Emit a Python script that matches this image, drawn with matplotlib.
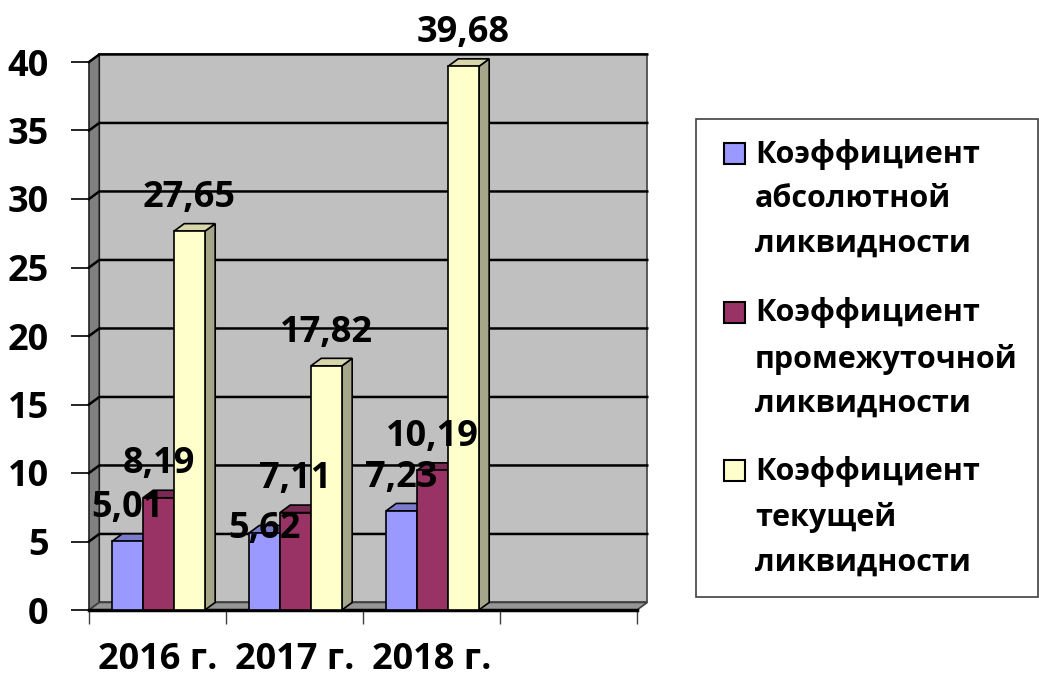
import matplotlib.pyplot as plt
from matplotlib.patches import Polygon, Rectangle

plt.rcParams['font.family'] = ['Open Sans', 'DejaVu Sans']
plt.rcParams['font.weight'] = 'bold'

# data
years = ['2016 г.', '2017 г.', '2018 г.']
series = ['Коэффициент\nабсолютной\nликвидности',
          'Коэффициент\nпромежуточной\nликвидности',
          'Коэффициент\nтекущей\nликвидности']
absolute = [5.01, 5.62, 7.23]
intermediate = [8.19, 7.11, 10.19]
current = [27.65, 17.82, 39.68]
n_slots = 4  # excel leaves one empty category slot

# colours: front, side, top
colors = [('#9999FF', '#6B6BB3', '#7B7BCC'),
          ('#993366', '#6B2447', '#7A2952'),
          ('#FFFFCC', '#A6A68A', '#D6D6AA')]

FS = 26
DX, DY = 0.075, 0.55   # 3d depth in data units
BW = 0.226             # bar width
GAP = 0.168            # offset of group inside a slot

fig = plt.figure(figsize=(10.39, 6.77), dpi=100)
ax = fig.add_axes([89/1039, 67/677, 548/1039, 548/677])
ax.set_xlim(0, n_slots)
ax.set_ylim(0, 40)
for s in ax.spines.values():
    s.set_visible(False)
ax.patch.set_visible(False)

# walls
back = Polygon([(DX, DY), (n_slots + DX, DY), (n_slots + DX, 40 + DY), (DX, 40 + DY)],
               closed=True, fc='#C0C0C0', ec='#404040', lw=1.2, clip_on=False, zorder=1)
side = Polygon([(0, 0), (0, 40), (DX, 40 + DY), (DX, DY)],
               closed=True, fc='#808080', ec='#202020', lw=1.2, clip_on=False, zorder=1)
floor = Polygon([(0, 0), (n_slots, 0), (n_slots + DX, DY), (DX, DY)],
                closed=True, fc='#969696', ec='#404040', lw=1.2, clip_on=False, zorder=1)
for p in (back, side, floor):
    ax.add_patch(p)
ax.plot([0, n_slots], [0, 0], color='black', lw=2.5, clip_on=False, zorder=2)

# gridlines on back wall and side wall
for y in range(5, 41, 5):
    ax.plot([0, DX, n_slots + DX], [y, y + DY, y + DY], color='black', lw=1.8,
            clip_on=False, zorder=2)

# bars
all_vals = [absolute, intermediate, current]
z = 3
for i in range(len(years)):
    for j, vals in enumerate(all_vals):
        v = vals[i]
        x0 = i + GAP + j * BW
        x1 = x0 + BW
        front, sidec, topc = colors[j]
        ax.add_patch(Polygon([(x1, 0), (x1 + DX, DY), (x1 + DX, v + DY), (x1, v)],
                             closed=True, fc=sidec, ec='black', lw=1.2, clip_on=False, zorder=z))
        ax.add_patch(Polygon([(x0, v), (x1, v), (x1 + DX, v + DY), (x0 + DX, v + DY)],
                             closed=True, fc=topc, ec='black', lw=1.2, clip_on=False, zorder=z))
        ax.add_patch(Rectangle((x0, 0), BW, v, fc=front, ec='black', lw=1.2,
                               clip_on=False, zorder=z + 0.5))
        z += 1

# value labels (the 2017 absolute one sits lower in the original)
nudge = {(1, 0): -21}
for i in range(len(years)):
    for j, vals in enumerate(all_vals):
        v = vals[i]
        xc = i + GAP + j * BW + BW / 2
        ax.annotate(f'{v:.2f}'.replace('.', ','), xy=(xc, v),
                    xytext=(0, 24 + nudge.get((i, j), 0)),
                    textcoords='offset points', ha='center', va='center',
                    fontsize=FS, fontweight='bold', zorder=50)

# axes ticks
ax.set_yticks(range(0, 41, 5))
ax.tick_params(axis='y', length=13, width=1.2, pad=16, labelsize=FS)
ax.set_xticks(range(0, n_slots + 1))
ax.set_xticklabels([])
ax.tick_params(axis='x', which='major', length=10, width=1, color='#404040')
ax.set_xticks([i + 0.5 for i in range(len(years))], minor=True)
ax.set_xticklabels(years, minor=True, fontsize=FS, fontweight='bold')
ax.tick_params(axis='x', which='minor', length=0, pad=23)

# legend, drawn by hand
lx0, ly0, lx1, ly1 = 696, 119, 1038, 597
fig.patches.append(Rectangle((lx0/1039, 1 - ly1/677), (lx1 - lx0)/1039, (ly1 - ly0)/677,
                             transform=fig.transFigure, fc='white', ec='#404040', lw=1.2))
for k, name in enumerate(series):
    top = 155 + k * 158.5
    fig.patches.append(Rectangle((724/1039, 1 - (top + 9)/677), 21/1039, 21/677,
                                 transform=fig.transFigure, fc=colors[k][0], ec='black', lw=1.5))
    fig.text(755/1039, 1 - (top - 16)/677, name, ha='left', va='top', fontsize=22,
             fontweight='bold', linespacing=1.63)

fig.savefig('out.png', dpi=100)
